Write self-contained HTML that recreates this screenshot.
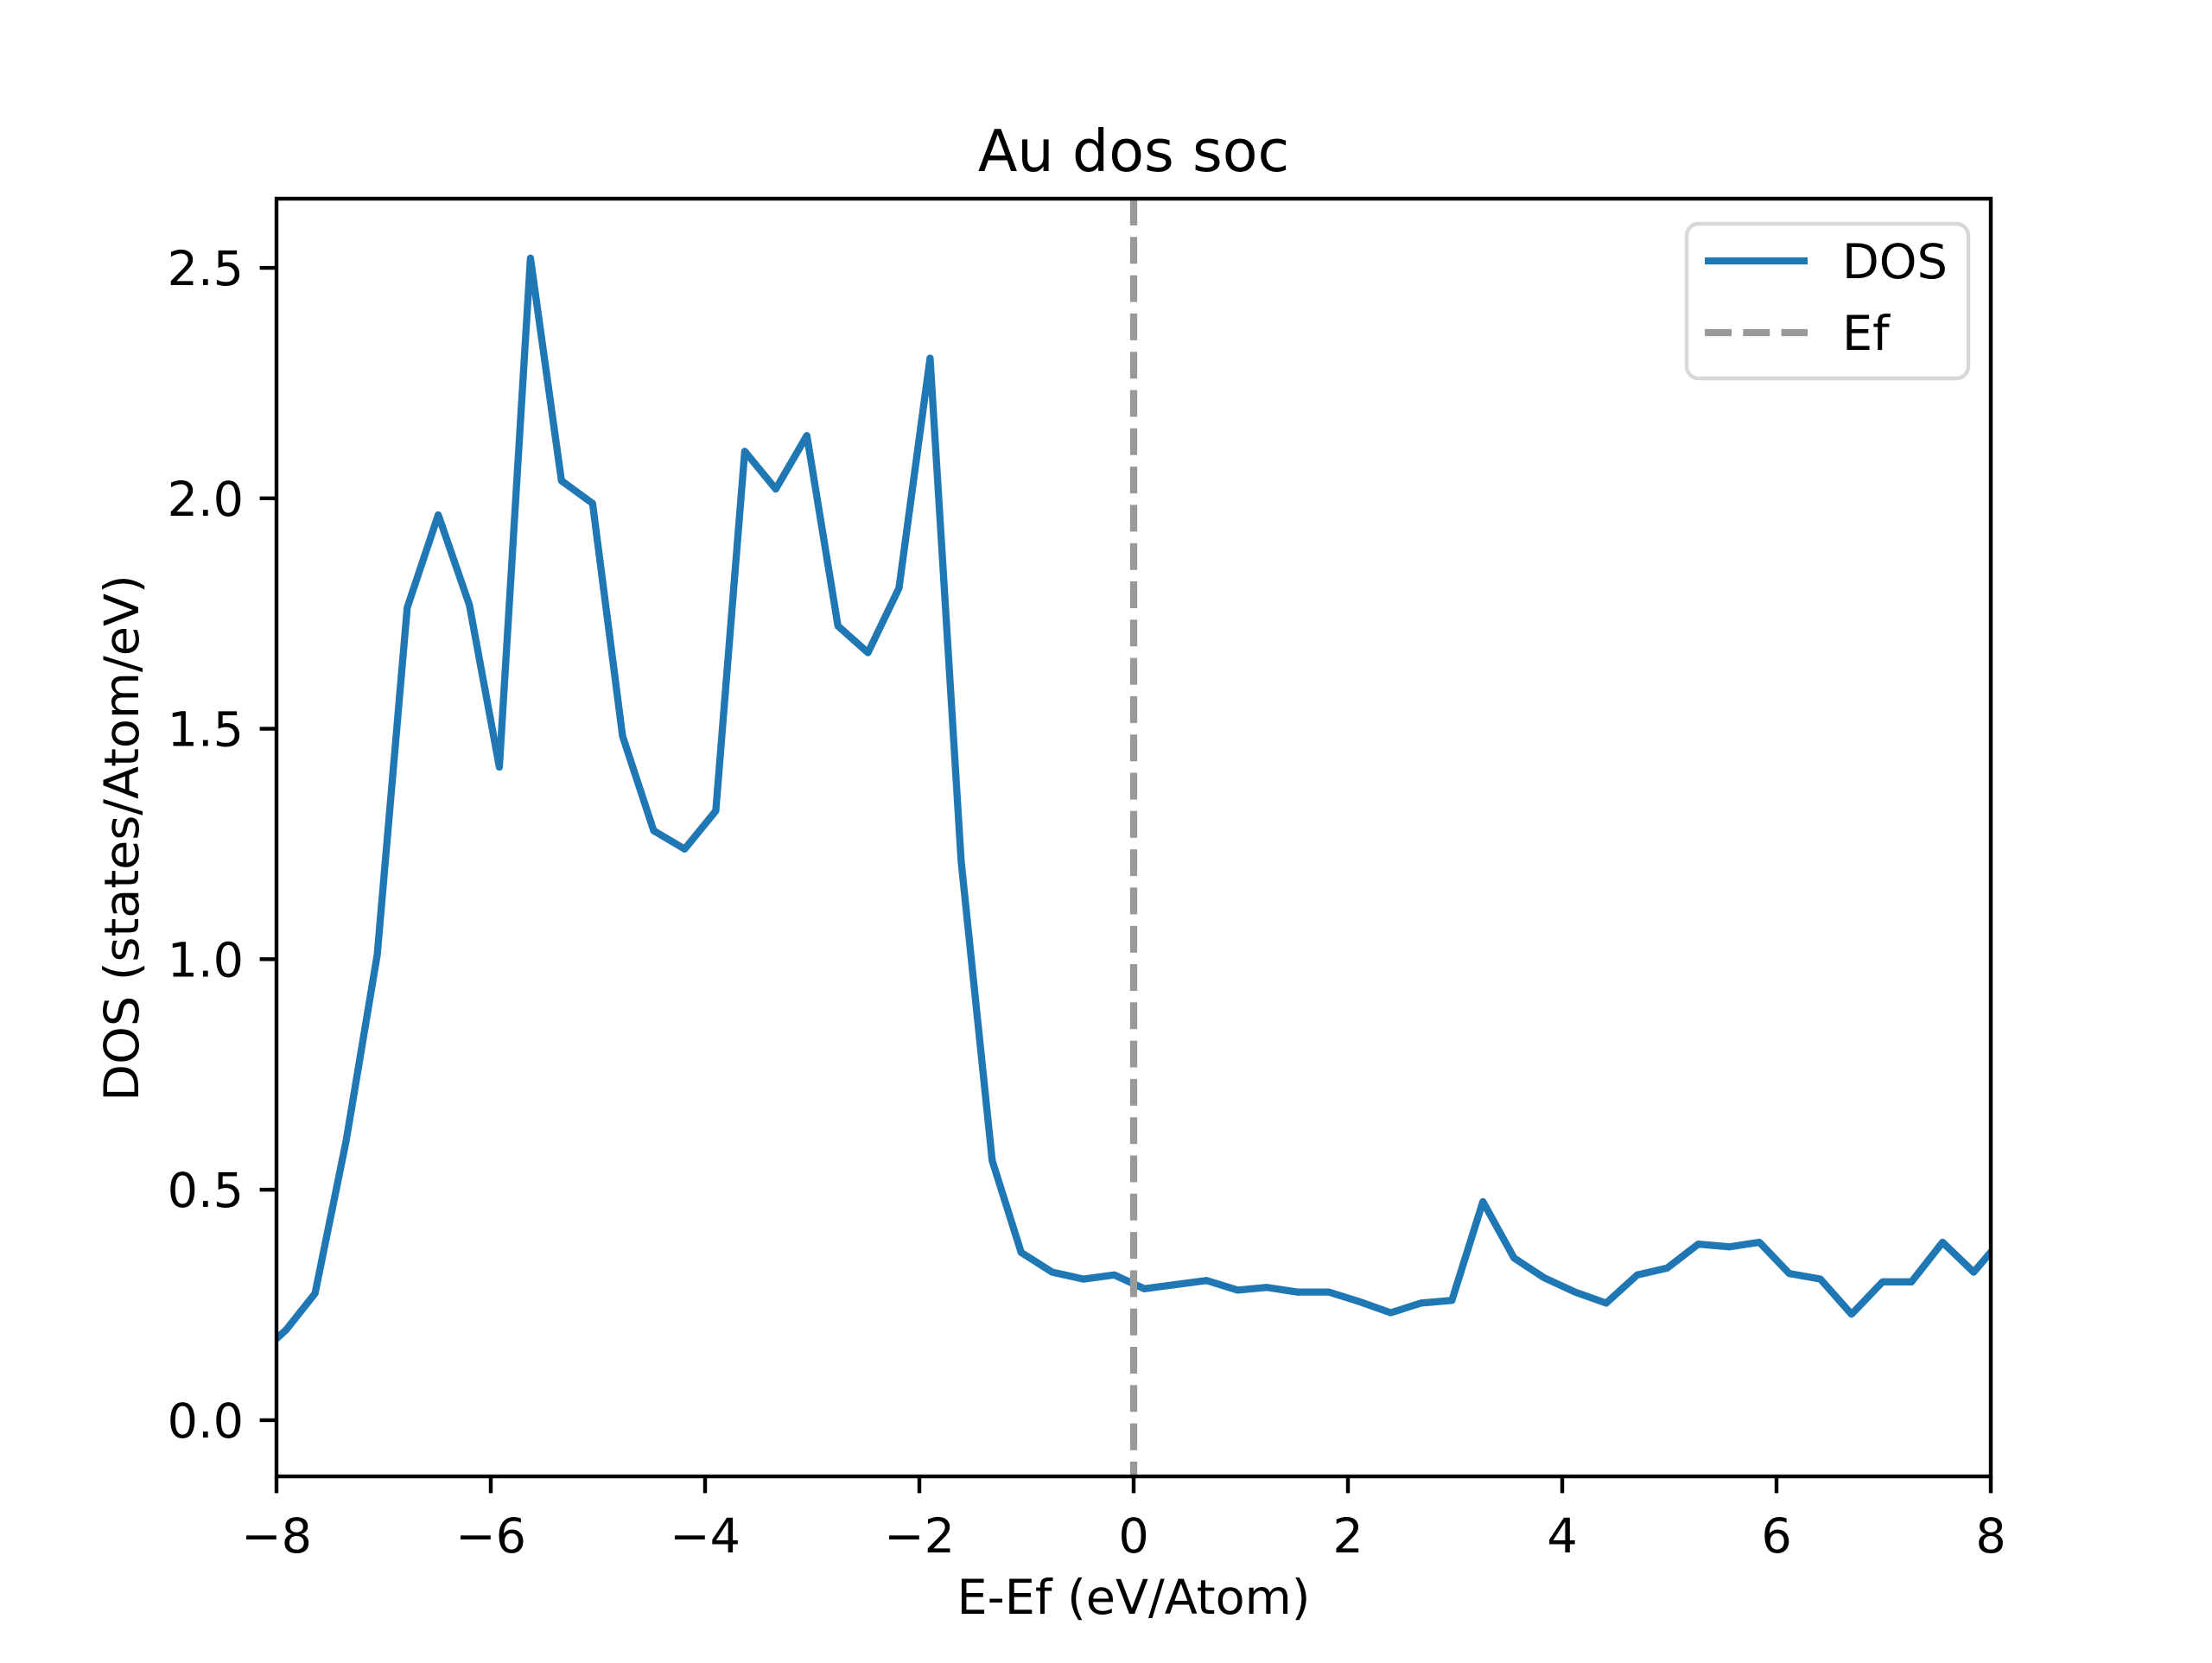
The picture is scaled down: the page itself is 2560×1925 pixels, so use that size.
<!DOCTYPE html>
<html><head><meta charset="utf-8"><style>
html,body{margin:0;padding:0;background:#fff;}
svg text{font-family:"DejaVu Sans","Liberation Sans",sans-serif;fill:#000;}
</style></head><body>
<svg id="chart" width="2560" height="1920" viewBox="0 0 2560 1920" xmlns="http://www.w3.org/2000/svg">
<defs><clipPath id="clip"><rect x="320" y="230" width="1984" height="1479"/></clipPath></defs>
<rect width="2560" height="1920" fill="#fff"/>
<g clip-path="url(#clip)"><path id="dos-line" fill="none" stroke="#1f77b4" stroke-width="8.3" stroke-linejoin="round"/>
<line id="ef-line" stroke="#999999" stroke-width="8.3" stroke-dasharray="31 13.3"/></g>
<rect x="320" y="230" width="1984" height="1479" fill="none" stroke="#000" stroke-width="4.4"/>
<g id="ticks"></g>
<text x="1312" y="198" font-size="66.7" text-anchor="middle">Au dos soc</text>
<text x="1312" y="1868" font-size="55.6" text-anchor="middle">E-Ef (eV/Atom)</text>
<text transform="translate(160,970) rotate(-90)" font-size="55.6" text-anchor="middle">DOS (states/Atom/eV)</text>
<g>
<rect x="1952" y="259" width="326" height="179" rx="14" fill="#fff" fill-opacity="0.8" stroke="#d8d8d8" stroke-width="4.4"/>
<line x1="1973" y1="302" x2="2092" y2="302" stroke="#1f77b4" stroke-width="8.3"/>
<text x="2132" y="322" font-size="55.6">DOS</text>
<line x1="1973" y1="385" x2="2092" y2="385" stroke="#999999" stroke-width="8.3" stroke-dasharray="31 13.3"/>
<text x="2132" y="405" font-size="55.6">Ef</text>
</g>
</svg>
<script>
const energies=[-8.2,-8.0,-7.91,-7.64,-7.35,-7.06,-6.78,-6.49,-6.20,-5.92,-5.63,-5.34,-5.05,-4.77,-4.48,-4.19,-3.90,-3.63,-3.34,-3.05,-2.76,-2.48,-2.19,-1.90,-1.61,-1.32,-1.05,-0.76,-0.47,-0.18,0.10,0.39,0.68,0.97,1.24,1.53,1.82,2.11,2.40,2.68,2.97,3.26,3.55,3.83,4.12,4.41,4.70,4.98,5.27,5.56,5.84,6.12,6.41,6.70,6.99,7.26,7.55,7.84,8.13];
const dos=[0.14,0.177,0.196,0.275,0.606,1.01,1.763,1.964,1.769,1.417,2.521,2.038,1.989,1.484,1.279,1.239,1.322,2.102,2.020,2.136,1.723,1.665,1.805,2.304,1.212,0.563,0.364,0.321,0.306,0.315,0.285,0.294,0.303,0.282,0.288,0.278,0.278,0.257,0.233,0.254,0.260,0.474,0.352,0.309,0.278,0.254,0.315,0.330,0.382,0.376,0.386,0.318,0.306,0.230,0.300,0.300,0.386,0.321,0.40];
const xTicks=[-8,-6,-4,-2,0,2,4,6,8];
const yTicks=[0.0,0.5,1.0,1.5,2.0,2.5];
const fermiEnergy=[0];
const X0=320,X1=2304,Y0=1709,Y1=230,XMIN=-8,XMAX=8,YMIN=-0.122,YMAX=2.650;
const sx=v=>X0+(v-XMIN)/(XMAX-XMIN)*(X1-X0);
const sy=v=>Y0-(v-YMIN)/(YMAX-YMIN)*(Y0-Y1);
const NS='http://www.w3.org/2000/svg';
document.getElementById('dos-line').setAttribute('d',energies.map((e,i)=>(i?'L':'M')+sx(e).toFixed(1)+' '+sy(dos[i]).toFixed(1)).join(' '));
const ef=document.getElementById('ef-line');
ef.setAttribute('x1',sx(fermiEnergy[0]));ef.setAttribute('x2',sx(fermiEnergy[0]));
ef.setAttribute('y1',Y1);ef.setAttribute('y2',Y0);
const g=document.getElementById('ticks');
function fmtX(v){return v<0?'\u2212'+Math.abs(v):String(v);}
xTicks.forEach(v=>{
 const l=document.createElementNS(NS,'line');
 
 
 l.setAttribute('x1',sx(v));l.setAttribute('x2',sx(v));l.setAttribute('y1',Y0);l.setAttribute('y2',Y0+19.4);
 l.setAttribute('stroke','#000');l.setAttribute('stroke-width','4.4');g.appendChild(l);
 const t=document.createElementNS(NS,'text');
 
 
 t.setAttribute('x',sx(v));t.setAttribute('y',Y0+88);t.setAttribute('font-size','55.6');t.setAttribute('text-anchor','middle');
 t.textContent=fmtX(v);g.appendChild(t);
});
yTicks.forEach(v=>{
 const l=document.createElementNS(NS,'line');
 
 
 l.setAttribute('x1',X0-19.4);l.setAttribute('x2',X0);l.setAttribute('y1',sy(v));l.setAttribute('y2',sy(v));
 l.setAttribute('stroke','#000');l.setAttribute('stroke-width','4.4');g.appendChild(l);
 const t=document.createElementNS(NS,'text');
 
 
 t.setAttribute('x',X0-38);t.setAttribute('y',sy(v)+20);t.setAttribute('font-size','55.6');t.setAttribute('text-anchor','end');
 t.textContent=v.toFixed(1);g.appendChild(t);
});
</script>
</body></html>
